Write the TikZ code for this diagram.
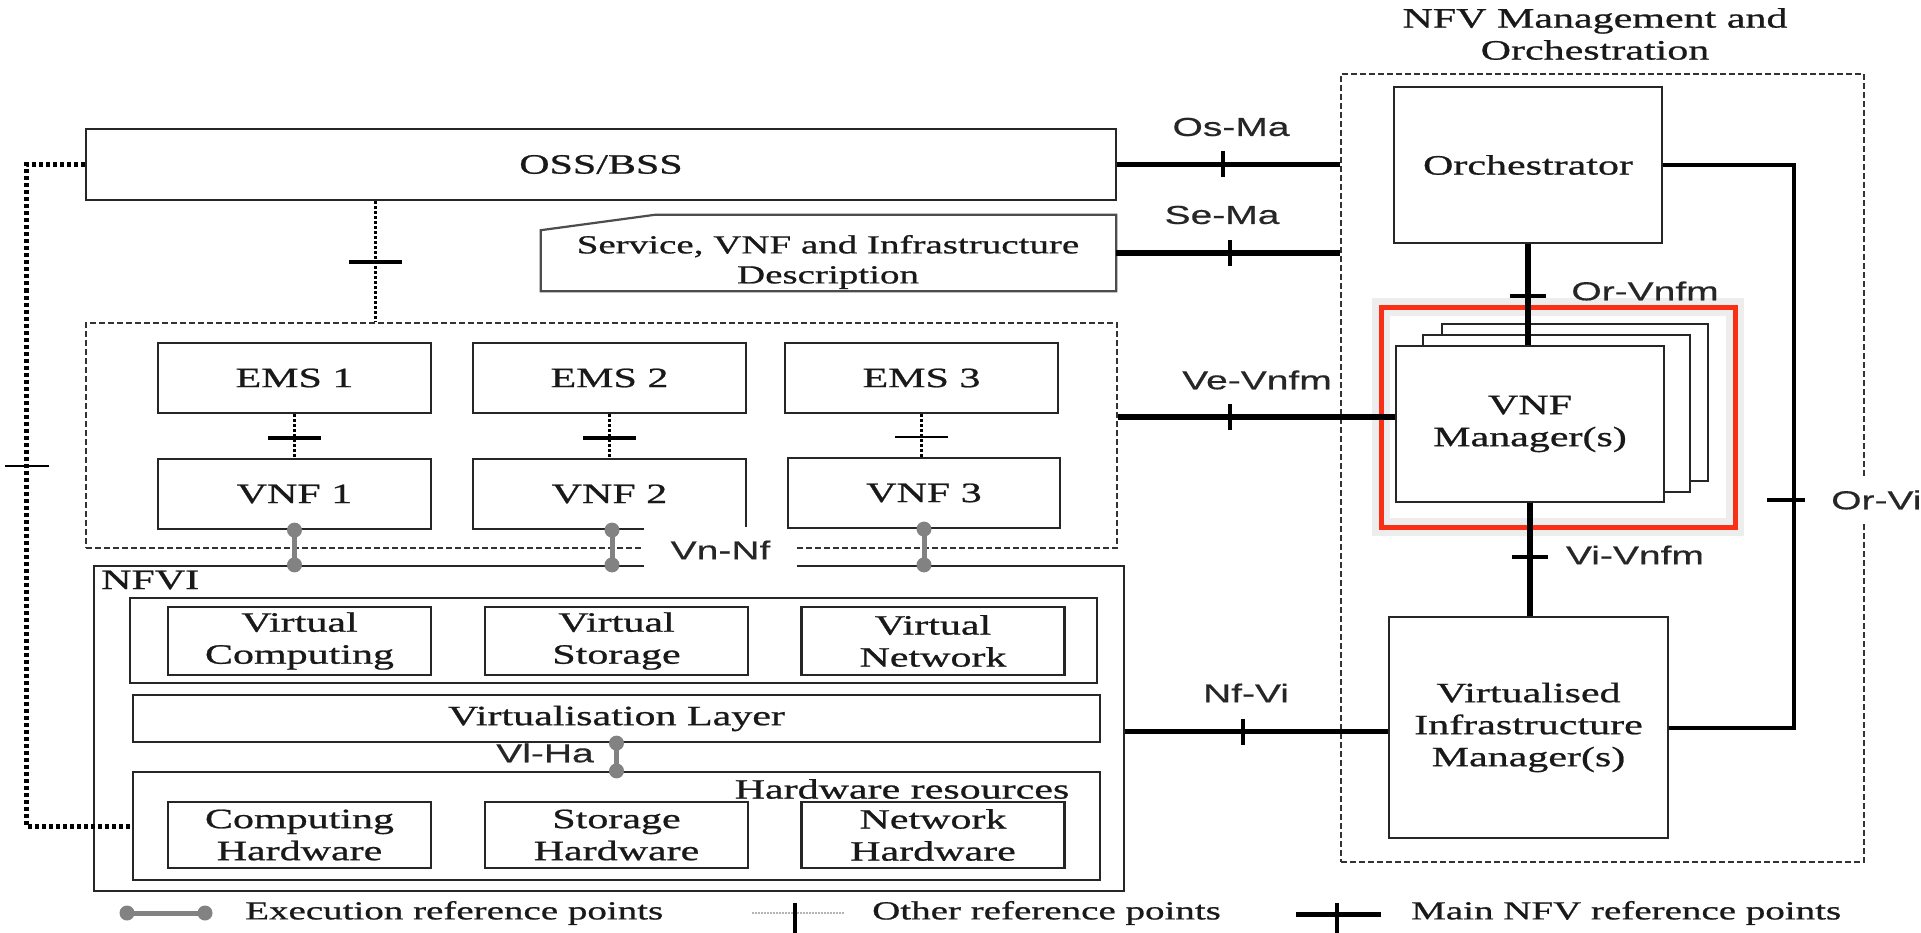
\documentclass[tikz,border=0pt]{standalone}
\usepackage{fontspec}
\setmainfont{Liberation Serif}[FakeStretch=1.5, FakeBold=0.8]
\newfontfamily\refsans{Liberation Sans}[FakeStretch=1.5, FakeBold=0.5]
\usetikzlibrary{arrows.meta,positioning,calc}
\definecolor{hilite}{RGB}{250,48,22}
\definecolor{execgray}{RGB}{130,130,130}
\newcommand\boxfont{\fontsize{28}{32}\selectfont}
\newcommand\legfont{\fontsize{26}{30}\selectfont}
\newcommand\reffont{\refsans\fontsize{26}{30}\selectfont}
\tikzset{
  box/.style     = {draw=black!85, line width=2.2, fill=white, inner sep=0,
                    align=center, font=\boxfont, text=black!90},
  boxline/.style = {draw=black!70, line width=2.2},
  area/.style    = {draw=black!80, line width=1.8, dash pattern=on 6 off 3, inner sep=0},
  lbl/.style     = {font=\boxfont, align=center, inner sep=0, text=black!90},
  reflbl/.style  = {font=\reffont, inner sep=0, text=black!85},
  leg/.style     = {font=\legfont, anchor=west, inner sep=0, text=black!90},
  mainref/.style = {line width=5.5, black},
  other/.style   = {line width=3, black, dash pattern=on 2.5 off 2.5},
  otherthick/.style = {line width=5, black, dash pattern=on 4 off 3},
  exec/.style    = {line width=5, execgray},
  dot/.style     = {circle, fill=execgray, inner sep=0, minimum size=15},
  htick/.style   = {fill=black, inner sep=0, minimum width=4, minimum height=26},
  vtick/.style   = {fill=black, inner sep=0, minimum width=53, minimum height=4},
  mvtick/.style  = {fill=black, inner sep=0, minimum width=36, minimum height=3.5}
}
\begin{document}
\begin{tikzpicture}[x=1pt, y=-1pt]
  \fill[white] (0,0) rectangle (1921,933);
  \useasboundingbox (0,0) rectangle (1921,933);

  \node[area, minimum width=523, minimum height=788] (mano) at (1602.5,468) {};
  \node[lbl] (manotitle) at (1595,34) {NFV Management and\\Orchestration};
  \node[box, minimum width=268, minimum height=156] (orch) at (1528,165) {Orchestrator};
  \node[draw=hilite, line width=5, minimum width=354, minimum height=220,
        preaction={draw=black, opacity=.07, line width=18}] (focus) at (1558,417) {};
  \node[box, line width=1.6, minimum width=266, minimum height=157] (vnfm3) at (1575,402.5) {};
  \node[box, line width=1.6, minimum width=267, minimum height=157] (vnfm2) at (1556.5,413.5) {};
  \node[box, minimum width=268, minimum height=156] (vnfm) at (1530,424) {VNF\\Manager(s)};
  \node[box, minimum width=279, minimum height=221] (vim) at (1528.5,727.5)
    {Virtualised\\Infrastructure\\Manager(s)};

  \node[box, minimum width=1030, minimum height=71] (oss) at (601,164.5) {OSS/BSS};
  \node[minimum width=575, minimum height=76, inner sep=0] (svc) at (828.5,253) {};
  \draw[boxline] (svc.south west) -- ++(0,-61) -- ($(svc.north west)+(114,0)$)
    -- (svc.north east) -- (svc.south east) -- cycle;
  \node[lbl, font=\fontsize{26}{30}\selectfont] (svctxt) at (828,262)
    {Service, VNF and Infrastructure\\Description};

  \node[area, minimum width=1031, minimum height=225] (vnfarea) at (601.5,435.5) {};
  \node[box, minimum width=273, minimum height=70] (ems1) at (294.5,378) {EMS 1};
  \node[box, minimum width=273, minimum height=70] (ems2) at (609.5,378) {EMS 2};
  \node[box, minimum width=273, minimum height=70] (ems3) at (921.5,378) {EMS 3};
  \node[box, minimum width=273, minimum height=70] (vnf1) at (294.5,494) {VNF 1};
  \node[box, minimum width=273, minimum height=70] (vnf2) at (609.5,494) {VNF 2};

  \node[box, minimum width=1030, minimum height=325] (nfvi) at (609,728.5) {};
  \node[lbl, anchor=base west] (nfvilbl) at (101,589) {NFVI};
  \node[box, minimum width=967, minimum height=85] (virtres) at (613.5,640.5) {};
  \node[box, minimum width=263, minimum height=68] (vcomp) at (299.5,641) {Virtual\\Computing};
  \node[box, minimum width=263, minimum height=68] (vstor) at (616.5,641) {Virtual\\Storage};
  \node[box, minimum width=263, minimum height=68] (vnet) at (933,641) {Virtual\\Network};
  \node[box, minimum width=967, minimum height=47] (virtlayer) at (616.5,718.5) {Virtualisation Layer};
  \node[box, minimum width=967, minimum height=108] (hwres) at (616.5,826) {};
  \node[lbl] (hwlbl) at (902,789) {Hardware resources};
  \node[box, minimum width=263, minimum height=66] (chw) at (299.5,835) {Computing\\Hardware};
  \node[box, minimum width=263, minimum height=66] (shw) at (616.5,835) {Storage\\Hardware};
  \node[box, minimum width=263, minimum height=66] (nhw) at (933,835) {Network\\Hardware};

  \draw[mainref] (oss.east) -- node[htick, pos=0.476] {} (oss.east -| mano.west);
  \node[reflbl] (osmalbl) at (1231,127) {Os-Ma};
  \draw[mainref] (svc.east) -- node[htick, pos=0.507] {} (svc.east -| mano.west);
  \node[reflbl] (semalbl) at (1222,215) {Se-Ma};
  \coordinate (vepoint) at ([yshift=7]vnfm.west);
  \draw[mainref] (vnfarea.east |- vepoint) -- node[htick, pos=0.405] {} (vepoint);
  \node[reflbl] (vevnfmlbl) at (1257,380) {Ve-Vnfm};
  \coordinate (nfpoint) at ([yshift=-4]vim.west);
  \draw[mainref] (nfvi.east |- nfpoint) -- node[htick, pos=0.449] {} (nfpoint);
  \node[reflbl] (nfvilbl2) at (1246,693) {Nf-Vi};
  \draw[mainref] (orch.south) -- node[mvtick, pos=0.515] {} (orch.south |- vnfm.north);
  \node[reflbl] (orvnfmlbl) at (1645,291) {Or-Vnfm};
  \draw[mainref] (vnfm.south) -- node[mvtick, pos=0.478] {} (vnfm.south |- vim.north);
  \node[reflbl] (vivnfmlbl) at (1635,555) {Vi-Vnfm};
  \coordinate (oripoint) at (1794,500);
  \draw[mainref, line width=4] (orch.east) -| (oripoint) |- (vim.east);
  \node[mvtick, minimum width=38] (orvitick) at (1786,500) {};
  \node[reflbl, fill=white, anchor=west, inner sep=5, minimum height=48] (orvilbl) at (1826,500) {Or-Vi};

  \draw[otherthick] (oss.west) -- ++(-58,0)
    |- node[vtick, pos=0.228, minimum width=44, minimum height=2.5] {} (hwres.west);
  \coordinate (ossdrop) at ([xshift=-226]oss.south);
  \draw[other] (ossdrop) -- node[vtick] {} (ossdrop |- vnfarea.north);
  \draw[other] (ems1.south) -- node[vtick, pos=0.54] {} (vnf1.north);
  \draw[other] (ems2.south) -- node[vtick, pos=0.54] {} (vnf2.north);

  \draw[exec] (vnf1.south) node[dot] {} -- (vnf1.south |- nfvi.north) node[dot] {};
  \draw[exec] ([xshift=2.5]vnf2.south) node[dot] {} -- ([xshift=2.5]vnf2.south |- nfvi.north) node[dot] {};
  \draw[exec] (virtlayer.south) node[dot] {} -- (virtlayer.south |- hwres.north) node[dot] {};
  \node[reflbl] (vlhalbl) at (545,753) {Vl-Ha};

  \node[reflbl, fill=white, minimum width=153, minimum height=46] (vnnf) at (720.5,550) {Vn-Nf};
  \node[box, minimum width=272, minimum height=70] (vnf3) at (924,493) {VNF 3};
  \draw[other] (ems3.south) -- node[vtick, pos=0.54, minimum height=2.5] {} (ems3.south |- vnf3.north);
  \draw[exec] (vnf3.south) node[dot] {} -- (vnf3.south |- nfvi.north) node[dot] {};

  \coordinate (lexa) at (127,913);
  \coordinate (lexb) at (205,913);
  \draw[exec] (lexa) node[dot] {} -- (lexb) node[dot] {};
  \node[leg] (legexec) at (245,913) {Execution reference points};
  \coordinate (lota) at (752,913);
  \coordinate (lotb) at (845,913);
  \draw[line width=2, execgray!60, dash pattern=on 1.5 off 1.5] (lota) -- (lotb);
  \draw[line width=4] ($(lota)!0.46!(lotb)+(0,-10)$) -- ++(0,32);
  \node[leg] (legother) at (872,913) {Other reference points};
  \coordinate (lmaa) at (1296,914);
  \coordinate (lmab) at (1381,914);
  \draw[mainref, line width=5] (lmaa) -- (lmab);
  \draw[line width=4] ($(lmaa)!0.48!(lmab)+(0,-11)$) -- ++(0,32);
  \node[leg] (legmain) at (1411,913) {Main NFV reference points};
\end{tikzpicture}
\end{document}
